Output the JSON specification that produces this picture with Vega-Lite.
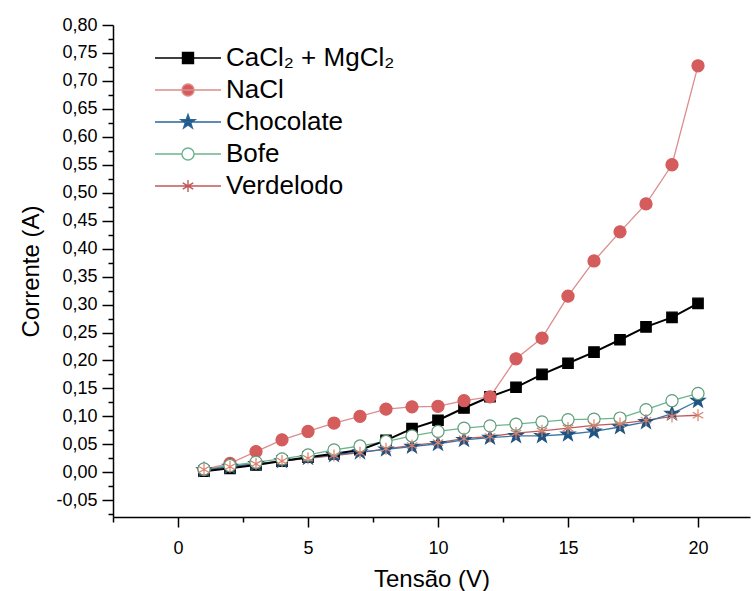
{
  "$schema": "https://vega.github.io/schema/vega-lite/v6.json",
  "autosize": {"type": "none"},
  "padding": {"left": 113, "top": 25, "right": 4, "bottom": 74},
  "width": 637,
  "height": 492,
  "background": "white",
  "config": {"view": {"stroke": null}, "font": "Liberation Sans", "legend": {"symbolOpacity": 1}},
  "data": {"values": [
    {"s": "CaCl₂ + MgCl₂", "V": 1, "I": 0.002}, {"s": "CaCl₂ + MgCl₂", "V": 2, "I": 0.007}, {"s": "CaCl₂ + MgCl₂", "V": 3, "I": 0.013}, {"s": "CaCl₂ + MgCl₂", "V": 4, "I": 0.020}, {"s": "CaCl₂ + MgCl₂", "V": 5, "I": 0.027},
    {"s": "CaCl₂ + MgCl₂", "V": 6, "I": 0.033}, {"s": "CaCl₂ + MgCl₂", "V": 7, "I": 0.040}, {"s": "CaCl₂ + MgCl₂", "V": 8, "I": 0.057}, {"s": "CaCl₂ + MgCl₂", "V": 9, "I": 0.078}, {"s": "CaCl₂ + MgCl₂", "V": 10, "I": 0.093},
    {"s": "CaCl₂ + MgCl₂", "V": 11, "I": 0.115}, {"s": "CaCl₂ + MgCl₂", "V": 12, "I": 0.135}, {"s": "CaCl₂ + MgCl₂", "V": 13, "I": 0.152}, {"s": "CaCl₂ + MgCl₂", "V": 14, "I": 0.175}, {"s": "CaCl₂ + MgCl₂", "V": 15, "I": 0.195},
    {"s": "CaCl₂ + MgCl₂", "V": 16, "I": 0.215}, {"s": "CaCl₂ + MgCl₂", "V": 17, "I": 0.237}, {"s": "CaCl₂ + MgCl₂", "V": 18, "I": 0.260}, {"s": "CaCl₂ + MgCl₂", "V": 19, "I": 0.277}, {"s": "CaCl₂ + MgCl₂", "V": 20, "I": 0.302},
    {"s": "NaCl", "V": 1, "I": 0.005}, {"s": "NaCl", "V": 2, "I": 0.016}, {"s": "NaCl", "V": 3, "I": 0.037}, {"s": "NaCl", "V": 4, "I": 0.058}, {"s": "NaCl", "V": 5, "I": 0.073},
    {"s": "NaCl", "V": 6, "I": 0.088}, {"s": "NaCl", "V": 7, "I": 0.100}, {"s": "NaCl", "V": 8, "I": 0.113}, {"s": "NaCl", "V": 9, "I": 0.117}, {"s": "NaCl", "V": 10, "I": 0.118},
    {"s": "NaCl", "V": 11, "I": 0.128}, {"s": "NaCl", "V": 12, "I": 0.135}, {"s": "NaCl", "V": 13, "I": 0.203}, {"s": "NaCl", "V": 14, "I": 0.240}, {"s": "NaCl", "V": 15, "I": 0.315},
    {"s": "NaCl", "V": 16, "I": 0.378}, {"s": "NaCl", "V": 17, "I": 0.430}, {"s": "NaCl", "V": 18, "I": 0.480}, {"s": "NaCl", "V": 19, "I": 0.550}, {"s": "NaCl", "V": 20, "I": 0.727},
    {"s": "Chocolate", "V": 1, "I": 0.004}, {"s": "Chocolate", "V": 2, "I": 0.010}, {"s": "Chocolate", "V": 3, "I": 0.015}, {"s": "Chocolate", "V": 4, "I": 0.020}, {"s": "Chocolate", "V": 5, "I": 0.026},
    {"s": "Chocolate", "V": 6, "I": 0.031}, {"s": "Chocolate", "V": 7, "I": 0.036}, {"s": "Chocolate", "V": 8, "I": 0.041}, {"s": "Chocolate", "V": 9, "I": 0.046}, {"s": "Chocolate", "V": 10, "I": 0.051},
    {"s": "Chocolate", "V": 11, "I": 0.058}, {"s": "Chocolate", "V": 12, "I": 0.062}, {"s": "Chocolate", "V": 13, "I": 0.065}, {"s": "Chocolate", "V": 14, "I": 0.065}, {"s": "Chocolate", "V": 15, "I": 0.068},
    {"s": "Chocolate", "V": 16, "I": 0.073}, {"s": "Chocolate", "V": 17, "I": 0.081}, {"s": "Chocolate", "V": 18, "I": 0.090}, {"s": "Chocolate", "V": 19, "I": 0.105}, {"s": "Chocolate", "V": 20, "I": 0.128},
    {"s": "Bofe", "V": 1, "I": 0.006}, {"s": "Bofe", "V": 2, "I": 0.012}, {"s": "Bofe", "V": 3, "I": 0.018}, {"s": "Bofe", "V": 4, "I": 0.024}, {"s": "Bofe", "V": 5, "I": 0.031},
    {"s": "Bofe", "V": 6, "I": 0.040}, {"s": "Bofe", "V": 7, "I": 0.047}, {"s": "Bofe", "V": 8, "I": 0.055}, {"s": "Bofe", "V": 9, "I": 0.065}, {"s": "Bofe", "V": 10, "I": 0.073},
    {"s": "Bofe", "V": 11, "I": 0.079}, {"s": "Bofe", "V": 12, "I": 0.083}, {"s": "Bofe", "V": 13, "I": 0.086}, {"s": "Bofe", "V": 14, "I": 0.090}, {"s": "Bofe", "V": 15, "I": 0.094},
    {"s": "Bofe", "V": 16, "I": 0.095}, {"s": "Bofe", "V": 17, "I": 0.097}, {"s": "Bofe", "V": 18, "I": 0.112}, {"s": "Bofe", "V": 19, "I": 0.128}, {"s": "Bofe", "V": 20, "I": 0.141},
    {"s": "Verdelodo", "V": 1, "I": 0.005}, {"s": "Verdelodo", "V": 2, "I": 0.010}, {"s": "Verdelodo", "V": 3, "I": 0.015}, {"s": "Verdelodo", "V": 4, "I": 0.020}, {"s": "Verdelodo", "V": 5, "I": 0.025},
    {"s": "Verdelodo", "V": 6, "I": 0.030}, {"s": "Verdelodo", "V": 7, "I": 0.035}, {"s": "Verdelodo", "V": 8, "I": 0.042}, {"s": "Verdelodo", "V": 9, "I": 0.048}, {"s": "Verdelodo", "V": 10, "I": 0.053},
    {"s": "Verdelodo", "V": 11, "I": 0.060}, {"s": "Verdelodo", "V": 12, "I": 0.064}, {"s": "Verdelodo", "V": 13, "I": 0.070}, {"s": "Verdelodo", "V": 14, "I": 0.074}, {"s": "Verdelodo", "V": 15, "I": 0.079},
    {"s": "Verdelodo", "V": 16, "I": 0.084}, {"s": "Verdelodo", "V": 17, "I": 0.087}, {"s": "Verdelodo", "V": 18, "I": 0.093}, {"s": "Verdelodo", "V": 19, "I": 0.100}, {"s": "Verdelodo", "V": 20, "I": 0.102}
  ]},
  "encoding": {
    "x": {"field": "V", "type": "quantitative",
      "scale": {"domain": [-2.5, 22], "nice": false, "zero": false},
      "axis": {"title": "Tensão (V)", "values": [-2.5, 0, 2.5, 5, 7.5, 10, 12.5, 15, 17.5, 20],
        "labelExpr": "datum.value % 5 != 0 ? '' : datum.label",
        "tickSize": {"condition": {"test": "datum.value % 5 != 0", "value": 5}, "value": 10},
        "grid": false, "domainColor": "black", "domainWidth": 1.5, "tickColor": "black", "tickWidth": 1.5,
        "labelFont": "Liberation Sans", "labelFontSize": 18, "labelColor": "black", "labelPadding": 12,
        "labelFlush": false, "labelOverlap": false,
        "titleFont": "Liberation Sans", "titleFontSize": 24, "titleFontWeight": "normal", "titleColor": "black", "titlePadding": 10}},
    "y": {"field": "I", "type": "quantitative",
      "scale": {"domain": [-0.08, 0.8], "nice": false, "zero": false},
      "axis": {"title": "Corrente (A)",
        "values": [-0.075, -0.05, -0.025, 0, 0.025, 0.05, 0.075, 0.1, 0.125, 0.15, 0.175, 0.2, 0.225, 0.25, 0.275, 0.3, 0.325, 0.35, 0.375, 0.4, 0.425, 0.45, 0.475, 0.5, 0.525, 0.55, 0.575, 0.6, 0.625, 0.65, 0.675, 0.7, 0.725, 0.75, 0.775, 0.8],
        "labelExpr": "abs(datum.value*20 - round(datum.value*20)) > 0.01 ? '' : replace(replace(format(datum.value, '.2f'), '.', ','), '\u2212', '-')",
        "tickSize": {"condition": {"test": "abs(datum.value*20 - round(datum.value*20)) > 0.01", "value": 5}, "value": 11},
        "grid": false, "domainColor": "black", "domainWidth": 1.5, "tickColor": "black", "tickWidth": 1.5,
        "labelFont": "Liberation Sans", "labelFontSize": 18, "labelColor": "black", "labelPadding": 5,
        "labelFlush": false, "labelOverlap": false,
        "titleFont": "Liberation Sans", "titleFontSize": 24, "titleFontWeight": "normal", "titleColor": "black", "titlePadding": 12}}
  },
  "layer": [
    {"transform": [{"filter": "datum.s == 'Verdelodo'"}], "mark": {"type": "line", "clip": true, "color": "#c05a5a", "strokeWidth": 1.3}},
    {"transform": [{"filter": "datum.s == 'Bofe'"}], "mark": {"type": "line", "clip": true, "color": "#6bb58c", "strokeWidth": 1.3}},
    {"transform": [{"filter": "datum.s == 'Chocolate'"}], "mark": {"type": "line", "clip": true, "color": "#3a75a5", "strokeWidth": 1.3}},
    {"transform": [{"filter": "datum.s == 'NaCl'"}], "mark": {"type": "line", "clip": true, "color": "#dc8c8c", "strokeWidth": 1.3}},
    {"transform": [{"filter": "datum.s == 'CaCl₂ + MgCl₂'"}], "mark": {"type": "line", "clip": true, "color": "#000000", "strokeWidth": 2}},
    {
      "mark": {"type": "point", "opacity": 1, "size": 121, "strokeWidth": 1.2, "clip": true},
      "encoding": {
        "fill": {"field": "s", "type": "nominal", "legend": null,
          "scale": {"domain": ["CaCl₂ + MgCl₂", "NaCl", "Chocolate", "Bofe", "Verdelodo"],
            "range": ["#000000", "#d45c5c", "#1f5583", "#ffffff", "#e89a86"]}},
        "stroke": {"field": "s", "type": "nominal", "legend": null,
          "scale": {"domain": ["CaCl₂ + MgCl₂", "NaCl", "Chocolate", "Bofe", "Verdelodo"],
            "range": ["#000000", "#d45c5c", "#1f5583", "#5e9c78", "#d9826e"]}},
        "shape": {"field": "s", "type": "nominal", "legend": null,
          "scale": {"domain": ["CaCl₂ + MgCl₂", "NaCl", "Chocolate", "Bofe", "Verdelodo"],
            "range": [
              "M-0.95,-0.95H0.95V0.95H-0.95Z",
              "M1.1,0A1.1,1.1,0,1,1,-1.1,0A1.1,1.1,0,1,1,1.1,0Z",
              "M0,-1.35L0.318,-0.438L1.284,-0.417L0.513,0.166L0.794,1.092L0,0.54L-0.794,1.092L-0.513,0.166L-1.284,-0.417L-0.318,-0.438Z",
              "M1.1,0A1.1,1.1,0,1,1,-1.1,0A1.1,1.1,0,1,1,1.1,0Z",
              "M0,-1.1V1.1M-0.95,-0.55L0.95,0.55M-0.95,0.55L0.95,-0.55"
            ]}}
      }
    },
    {
      "mark": {"type": "point", "opacity": 0, "size": 121, "strokeWidth": 1.4, "clip": true},
      "encoding": {
        "fill": {"field": "s", "type": "nominal",
          "scale": {"domain": ["CaCl₂ + MgCl₂", "NaCl", "Chocolate", "Bofe", "Verdelodo"],
            "range": ["#000000", "#d45c5c", "#1f5583", "#ffffff", "#e89a86"]},
          "legend": {"title": null, "orient": "none", "legendX": 34.5, "legendY": 20,
            "labelFont": "Liberation Sans", "labelFontSize": 26, "labelColor": "black", "labelLimit": 400,
            "labelOffset": 52.5, "rowPadding": 6, "symbolSize": 121, "symbolStrokeWidth": 1.4, "symbolOpacity": 1, "labelBaseline": "middle"}},
        "stroke": {"field": "s", "type": "nominal",
          "scale": {"domain": ["CaCl₂ + MgCl₂", "NaCl", "Chocolate", "Bofe", "Verdelodo"],
            "range": ["#000000", "#dc8c8c", "#2a6699", "#6bb58c", "#c05a5a"]}},
        "shape": {"field": "s", "type": "nominal",
          "scale": {"domain": ["CaCl₂ + MgCl₂", "NaCl", "Chocolate", "Bofe", "Verdelodo"],
            "range": [
              "M-1,0H11M4,-1H6V1H4Z",
              "M-1,0H11M6.1,0A1.1,1.1,0,1,1,3.9,0A1.1,1.1,0,1,1,6.1,0Z",
              "M-1,0H11M5,-1.35L5.318,-0.438L6.284,-0.417L5.513,0.166L5.794,1.092L5,0.54L4.206,1.092L4.487,0.166L3.716,-0.417L4.682,-0.438Z",
              "M-1,0H3.9M6.1,0H11M6.1,0A1.1,1.1,0,1,1,3.9,0A1.1,1.1,0,1,1,6.1,0Z",
              "M-1,0H11M5,-1.1V1.1M4.05,-0.55L5.95,0.55M4.05,0.55L5.95,-0.55"
            ]}}
      }
    }
  ],
  "resolve": {
    "scale": {"fill": "independent", "stroke": "independent", "shape": "independent"},
    "legend": {"fill": "independent", "stroke": "independent", "shape": "independent"}
  }
}
